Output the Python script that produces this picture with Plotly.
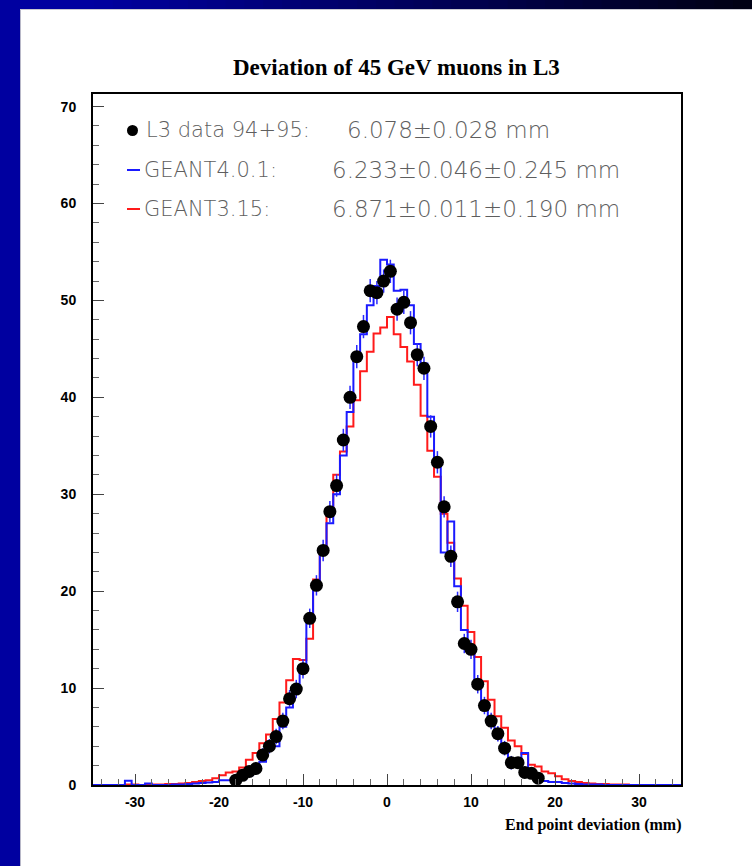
import plotly.graph_objects as go

# ---------------- data ----------------
BIN_WIDTH = 0.8
BIN_CENTERS = [round(-34.8 + BIN_WIDTH * i, 1) for i in range(88)]

# GEANT4.0.1 histogram (blue), one value per bin centre above
G4_VALUES = [
    0, 0, 0, 0, 0, 0.45, 0, 0, 0.15, 0, 0, 0,            # -34.8 .. -26.0
    0.05, 0.05, 0.1, 0.15, 0.2, 0.25, 0.3, 0.5, 0.5,      # -25.2 .. -18.8
    0.4, 0.6, 1.0, 1.8, 2.4, 4.3, 4.0, 6.0, 8.0, 10.0,    # -18.0 .. -10.8
    12.0, 17.0, 20.5, 24.0, 27.0, 30.0, 34.0, 38.5, 44.0, # -10.0 .. -3.6
    46.5, 49.5, 51.5, 54.2, 53.7, 51.0, 51.1, 49.5,       # -2.8 .. 2.8
    45.5, 43.5, 38.0, 33.0, 24.0, 27.2, 20.5, 16.0, 13.6, # 3.6 .. 10.0
    10.8, 8.1, 7.0, 5.3, 4.0, 2.3, 2.3, 3.3, 1.2, 0.6,    # 10.8 .. 18.0
    0.4, 0.3, 0.3, 0.2, 0.15, 0.1, 0.05, 0.05, 0.05,      # 18.8 .. 25.2
    0, 0, 0, 0, 0, 0, 0, 0, 0, 0, 0, 0,                   # 26.0 .. 34.8
]

# GEANT3.15 histogram (red)
G3_VALUES = [
    0, 0, 0, 0, 0, 0.05, 0.05, 0, 0.05, 0.05, 0.05, 0.1,  # -34.8 .. -26.0
    0.1, 0.15, 0.2, 0.3, 0.4, 0.5, 0.7, 1.0, 1.3,         # -25.2 .. -18.8
    1.4, 1.8, 2.6, 3.3, 4.3, 5.2, 6.8, 8.5, 10.8, 13.0,   # -18.0 .. -10.8
    12.9, 15.1, 21.2, 24.3, 28.5, 32.0, 34.4, 37.0, 39.7, # -10.0 .. -3.6
    42.7, 44.7, 46.6, 47.2, 48.3, 46.5, 45.2, 43.7,       # -2.8 .. 2.8
    41.3, 38.1, 34.5, 31.8, 28.0, 25.0, 21.3, 18.5, 15.8, # 3.6 .. 10.0
    13.2, 10.7, 8.8, 7.1, 5.9, 4.6, 4.0, 3.2, 2.1, 1.9,   # 10.8 .. 18.0
    1.4, 1.2, 0.9, 0.6, 0.4, 0.3, 0.2, 0.15, 0.1,         # 18.8 .. 25.2
    0.1, 0.05, 0.05, 0.05, 0, 0, 0, 0, 0, 0, 0, 0,        # 26.0 .. 34.8
]

# L3 data 94+95 (points)
DATA_X = [-18.0, -17.2, -16.4, -15.6, -14.8, -14.0, -13.2, -12.4, -11.6, -10.8,
          -10.0, -9.2, -8.4, -7.6, -6.8, -6.0, -5.2, -4.4, -3.6, -2.8,
          -2.0, -1.2, -0.4, 0.4, 1.2, 2.0, 2.8, 3.6, 4.4, 5.2,
          6.0, 6.8, 7.6, 8.4, 9.2, 10.0, 10.8, 11.6, 12.4, 13.2,
          14.0, 14.8, 15.6, 16.4, 17.2, 18.0]
DATA_Y = [0.5, 1.0, 1.4, 1.7, 3.1, 4.0, 5.0, 6.6, 8.9, 9.9,
          12.0, 17.2, 20.6, 24.2, 28.2, 30.9, 35.6, 40.0, 44.2, 47.3,
          51.0, 50.8, 52.0, 53.0, 49.1, 49.8, 47.7, 44.4, 43.0, 37.0,
          33.3, 28.7, 23.6, 18.9, 14.6, 14.0, 10.4, 8.2, 6.6, 5.3,
          3.8, 2.3, 2.3, 1.3, 1.2, 0.7]
DATA_ERR = [0.4, 0.5, 0.55, 0.6, 0.7, 0.75, 0.8, 0.85, 0.9, 0.95,
            1.0, 1.0, 1.05, 1.1, 1.1, 1.15, 1.15, 1.2, 1.2, 1.2,
            1.2, 1.2, 1.2, 1.2, 1.2, 1.2, 1.2, 1.2, 1.2, 1.15,
            1.15, 1.1, 1.1, 1.05, 1.0, 1.0, 0.95, 0.9, 0.85, 0.8,
            0.75, 0.7, 0.6, 0.55, 0.5, 0.4]

TITLE = "Deviation of 45 GeV muons in L3"
X_TITLE = "End point deviation (mm)"
LEGEND_ROWS = [
    ("L3 data 94+95:", "6.078\u00b10.028 mm"),
    ("GEANT4.0.1:", "6.233\u00b10.046\u00b10.245 mm"),
    ("GEANT3.15:", "6.871\u00b10.011\u00b10.190 mm"),
]
X_TICKS = [-30, -20, -10, 0, 10, 20, 30]
Y_TICKS = [0, 10, 20, 30, 40, 50, 60, 70]

# ---------------- figure ----------------
W, H = 752, 866
L, R, T, B = 93, 71, 94, 81


def step_xy(values):
    xs = [c - BIN_WIDTH / 2 for c in BIN_CENTERS] + [BIN_CENTERS[-1] + BIN_WIDTH / 2]
    ys = list(values) + [values[-1]]
    return xs, ys


fig = go.Figure()

gx, gy = step_xy(G3_VALUES)
fig.add_trace(go.Scatter(x=gx, y=gy, mode="lines", line=dict(color="#ff1a1a", width=2, shape="hv"),
                         hoverinfo="skip", showlegend=False))
gx, gy = step_xy(G4_VALUES)
fig.add_trace(go.Scatter(x=gx, y=gy, mode="lines", line=dict(color="#1a1aff", width=2, shape="hv"),
                         hoverinfo="skip", showlegend=False))
fig.add_trace(go.Scatter(
    x=DATA_X, y=DATA_Y, mode="markers",
    marker=dict(color="black", size=13, symbol="circle"),
    error_y=dict(type="data", array=DATA_ERR, visible=True, color="#2a2aff", thickness=1.5, width=0),
    showlegend=False))


def px2paper_x(px):
    return (px - L) / (W - L - R)


def px2paper_y(py):
    return (H - B - py) / (H - T - B)


shapes = []
# blue slide frame: left strip
shapes.append(dict(type="rect", xref="paper", yref="paper",
                   x0=px2paper_x(0), x1=px2paper_x(20), y0=px2paper_y(H), y1=px2paper_y(0),
                   fillcolor="#0000a0", line=dict(width=0), layer="below"))
# top band with gradient from blue to black
NSEG = 40
for i in range(NSEG):
    f = i / (NSEG - 1)
    x0 = W * i / NSEG
    x1 = W * (i + 1) / NSEG + 1
    t = max(0.0, (f - 0.12) / 0.88)
    b = int(160 * (1 - t) + 20 * t)
    shapes.append(dict(type="rect", xref="paper", yref="paper",
                       x0=px2paper_x(x0), x1=px2paper_x(x1), y0=px2paper_y(9), y1=px2paper_y(0),
                       fillcolor=f"rgb(0,0,{b})", line=dict(width=0), layer="below"))
# thin grey edges of the slide frame
shapes.append(dict(type="line", xref="paper", yref="paper",
                   x0=px2paper_x(20.5), x1=px2paper_x(20.5), y0=px2paper_y(H), y1=px2paper_y(9),
                   line=dict(color="#b8b8c8", width=1)))
shapes.append(dict(type="line", xref="paper", yref="paper",
                   x0=px2paper_x(20), x1=px2paper_x(W), y0=px2paper_y(9.5), y1=px2paper_y(9.5),
                   line=dict(color="#c8c8d0", width=1)))

# legend symbols
shapes.append(dict(type="circle", xref="paper", yref="paper",
                   x0=px2paper_x(127), x1=px2paper_x(138), y0=px2paper_y(136), y1=px2paper_y(125),
                   fillcolor="black", line=dict(color="black", width=0)))
shapes.append(dict(type="line", xref="paper", yref="paper",
                   x0=px2paper_x(127), x1=px2paper_x(140), y0=px2paper_y(170), y1=px2paper_y(170),
                   line=dict(color="#1a1aff", width=2)))
shapes.append(dict(type="line", xref="paper", yref="paper",
                   x0=px2paper_x(127), x1=px2paper_x(140), y0=px2paper_y(209), y1=px2paper_y(209),
                   line=dict(color="#ff1a1a", width=2)))

annotations = []
leg_y = [130, 170, 209]
leg_x = [144, 142, 142]
val_x = [345, 330, 330]
for (lab, val), py, lx, vx in zip(LEGEND_ROWS, leg_y, leg_x, val_x):
    annotations.append(dict(text=lab, xref="paper", yref="paper", x=px2paper_x(lx), y=px2paper_y(py),
                            xanchor="left", yanchor="middle", showarrow=False,
                            font=dict(family="DejaVu Sans", size=21, color="#5e5e5e", weight=200)))
    annotations.append(dict(text=val, xref="paper", yref="paper", x=px2paper_x(vx), y=px2paper_y(py),
                            xanchor="left", yanchor="middle", showarrow=False,
                            font=dict(family="DejaVu Sans", size=23, color="#5e5e5e", weight=200)))
annotations.append(dict(text="<b>" + TITLE + "</b>", xref="paper", yref="paper",
                        x=px2paper_x(396), y=px2paper_y(68), xanchor="center", yanchor="middle",
                        showarrow=False, font=dict(family="Liberation Serif", size=23, color="black")))
annotations.append(dict(text="<b>" + X_TITLE + "</b>", xref="paper", yref="paper",
                        x=px2paper_x(683), y=px2paper_y(825), xanchor="right", yanchor="middle",
                        showarrow=False, font=dict(family="Liberation Serif", size=16, color="black")))

fig.update_layout(
    width=W, height=H,
    margin=dict(l=L, r=R, t=T, b=B, pad=0),
    paper_bgcolor="white", plot_bgcolor="white",
    shapes=shapes, annotations=annotations,
    showlegend=False,
    xaxis=dict(range=[-35, 35], tickvals=X_TICKS, ticktext=[f"<b>{v}</b>" for v in X_TICKS],
               ticks="inside", ticklen=11, tickwidth=1, tickcolor="#444",
               minor=dict(dtick=2, tick0=0, ticks="inside", ticklen=6, tickwidth=1, tickcolor="#666"),
               showline=True, linewidth=2, linecolor="black", mirror=True,
               showgrid=False, zeroline=False, ticklabelstandoff=3,
               tickfont=dict(family="Liberation Sans", size=14, color="black")),
    yaxis=dict(range=[0, 71.3], tickvals=Y_TICKS, ticktext=[f"<b>{v}</b>" for v in Y_TICKS],
               ticks="inside", ticklen=11, tickwidth=1, tickcolor="#444",
               minor=dict(dtick=2, tick0=0, ticks="inside", ticklen=6, tickwidth=1, tickcolor="#666"),
               showline=True, linewidth=2, linecolor="black", mirror=True,
               showgrid=False, zeroline=False, ticklabelstandoff=12,
               tickfont=dict(family="Liberation Sans", size=14, color="black")),
)

fig.write_html("out.html", config={"displayModeBar": False},
               post_script="document.body.style.margin='0px';")
